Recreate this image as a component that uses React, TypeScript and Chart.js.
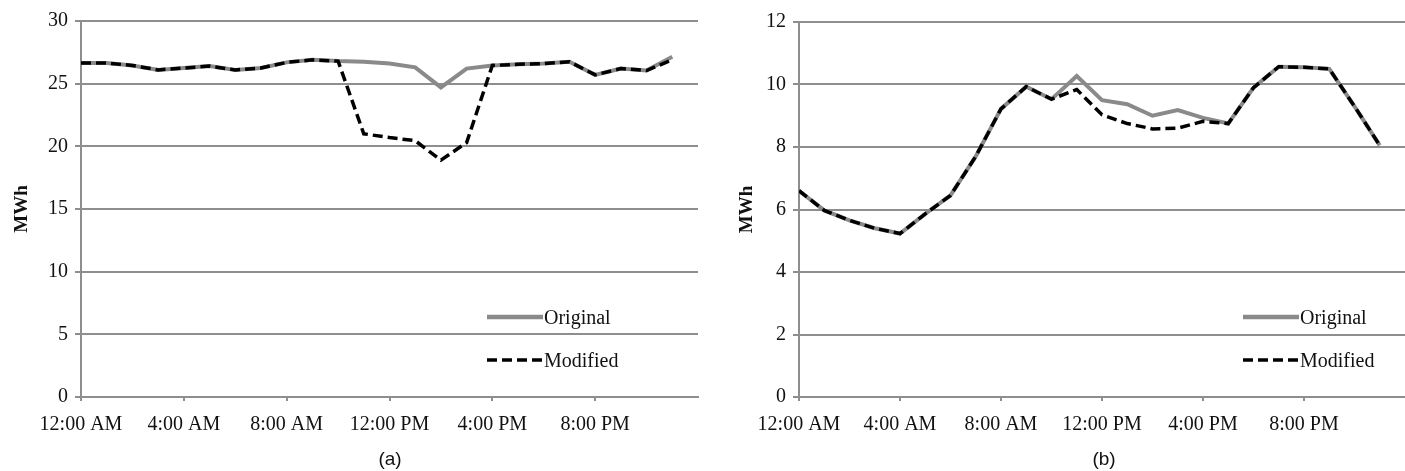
import React, { useEffect, useRef } from 'react';
import { Chart, registerables } from 'chart.js';

Chart.register(...registerables);

const HOURS = [0, 1, 2, 3, 4, 5, 6, 7, 8, 9, 10, 11, 12, 13, 14, 15, 16, 17, 18, 19, 20, 21, 22, 23];
const X_TICKS = [0, 4, 8, 12, 16, 20];
const X_TICK_LABELS = ['12:00 AM', '4:00 AM', '8:00 AM', '12:00 PM', '4:00 PM', '8:00 PM'];

const A_ORIGINAL = [26.65, 26.65, 26.45, 26.1, 26.25, 26.4, 26.1, 26.25, 26.7, 26.9, 26.8, 26.75, 26.6, 26.3, 24.7, 26.2, 26.45, 26.55, 26.6, 26.75, 25.7, 26.2, 26.05, 27.15];
const A_MODIFIED = [26.65, 26.65, 26.45, 26.1, 26.25, 26.4, 26.1, 26.25, 26.7, 26.9, 26.8, 21.0, 20.7, 20.45, 18.9, 20.3, 26.45, 26.55, 26.6, 26.75, 25.7, 26.2, 26.05, 26.9];

const B_ORIGINAL = [6.6, 5.97, 5.65, 5.4, 5.23, 5.86, 6.45, 7.7, 9.22, 9.93, 9.53, 10.27, 9.5, 9.37, 9.0, 9.18, 8.93, 8.75, 9.9, 10.57, 10.55, 10.5, 9.3, 8.05];
const B_MODIFIED = [6.6, 5.97, 5.65, 5.4, 5.23, 5.86, 6.45, 7.7, 9.22, 9.93, 9.53, 9.84, 9.03, 8.75, 8.58, 8.6, 8.82, 8.75, 9.9, 10.57, 10.55, 10.5, 9.3, 8.05];

const SERIES_NAMES = ['Original', 'Modified'];
const Y_TITLE = 'MWh';

const GRID = '#8e8e8e';
const ORIG_COLOR = '#8a8a8a';
const MOD_COLOR = '#000000';
const SERIF = "'Liberation Serif', 'Times New Roman', serif";

type Props = {
  original: number[];
  modified: number[];
  yMax: number;
  yStep: number;
  left: number;
  width: number;
  yWidth: number;
  padRight: number;
  padTop: number;
  titlePad: number;
  letter: string;
  letterX: number;
  legendX: number;
};

function Panel(p: Props) {
  const ref = useRef<HTMLCanvasElement | null>(null);
  useEffect(() => {
    const canvas = ref.current;
    if (!canvas) return;
    const chart = new Chart(canvas, {
      type: 'line',
      data: {
        datasets: [
          {
            label: SERIES_NAMES[0],
            data: HOURS.map((h, i) => ({ x: h, y: p.original[i] })),
            borderColor: ORIG_COLOR,
            borderWidth: 4,
            pointRadius: 0,
            tension: 0,
            fill: false,
            order: 1,
          },
          {
            label: SERIES_NAMES[1],
            data: HOURS.map((h, i) => ({ x: h, y: p.modified[i] })),
            borderColor: MOD_COLOR,
            borderWidth: 3.5,
            borderDash: [10, 5],
            pointRadius: 0,
            tension: 0,
            fill: false,
            order: 0,
          },
        ],
      },
      options: {
        animation: false,
        responsive: false,
        layout: { padding: { left: 0, right: p.padRight, top: p.padTop, bottom: 0 } },
        plugins: { legend: { display: false }, tooltip: { enabled: false } },
        scales: {
          x: {
            type: 'linear',
            min: 0,
            max: 24,
            afterBuildTicks: (s: any) => {
              s.ticks = X_TICKS.map((v) => ({ value: v }));
            },
            afterFit: (s: any) => {
              s.height = 74;
            },
            ticks: {
              autoSkip: false,
              maxRotation: 0,
              padding: 12,
              color: '#111',
              font: { family: SERIF, size: 20 },
              callback: (v: any) => {
                const i = X_TICKS.indexOf(Number(v));
                return i >= 0 ? X_TICK_LABELS[i] : '';
              },
            },
            grid: { drawOnChartArea: false, drawTicks: true, tickLength: 4, color: GRID, lineWidth: 2 },
            border: { display: true, color: GRID, width: 2 },
          },
          y: {
            min: 0,
            max: p.yMax,
            afterFit: (s: any) => {
              s.width = p.yWidth;
            },
            ticks: {
              stepSize: p.yStep,
              padding: 7,
              color: '#111',
              font: { family: SERIF, size: 20 },
            },
            grid: { color: GRID, lineWidth: 2, tickLength: 6 },
            border: { display: true, color: GRID, width: 2 },
            title: {
              display: true,
              text: Y_TITLE,
              color: '#111',
              font: { family: SERIF, size: 19, weight: 'bold' },
              padding: { top: p.titlePad, bottom: 0 },
            },
          },
        },
      },
    } as any);
    return () => chart.destroy();
  }, []);

  const legendText: React.CSSProperties = {
    position: 'absolute',
    fontFamily: SERIF,
    fontSize: 20,
    color: '#111',
    lineHeight: '20px',
    whiteSpace: 'nowrap',
  };

  return (
    <div style={{ position: 'absolute', left: p.left, top: 0, width: p.width, height: 471 }}>
      <canvas ref={ref} width={p.width} height={471} style={{ width: p.width, height: 471, display: 'block' }} />
      <svg style={{ position: 'absolute', left: p.legendX - p.left, top: 300 }} width={60} height={80}>
        <line x1={0} y1={17} x2={56} y2={17} stroke={ORIG_COLOR} strokeWidth={4.5} />
        <line x1={0} y1={60} x2={56} y2={60} stroke={MOD_COLOR} strokeWidth={3.5} strokeDasharray="10,5" />
      </svg>
      <div style={{ ...legendText, left: p.legendX - p.left + 57, top: 307 }}>{SERIES_NAMES[0]}</div>
      <div style={{ ...legendText, left: p.legendX - p.left + 57, top: 350 }}>{SERIES_NAMES[1]}</div>
      <div
        style={{
          position: 'absolute',
          left: p.letterX - p.left - 30,
          width: 60,
          textAlign: 'center',
          top: 448,
          fontFamily: "'Liberation Sans', Arial, sans-serif",
          fontSize: 19,
          lineHeight: '22px',
          color: '#111',
        }}
      >
        {p.letter}
      </div>
    </div>
  );
}

export default function App() {
  return (
    <div
      style={{
        position: 'fixed',
        left: 0,
        top: 0,
        width: 1405,
        height: 471,
        background: '#fff',
        overflow: 'hidden',
      }}
    >
      <Panel
        original={A_ORIGINAL}
        modified={A_MODIFIED}
        yMax={30}
        yStep={5}
        left={0}
        width={700}
        yWidth={81}
        padRight={2}
        padTop={21}
        titlePad={11}
        letter="(a)"
        letterX={390}
        legendX={487}
      />
      <Panel
        original={B_ORIGINAL}
        modified={B_MODIFIED}
        yMax={12}
        yStep={2}
        left={700}
        width={705}
        yWidth={99}
        padRight={0}
        padTop={22}
        titlePad={36}
        letter="(b)"
        letterX={1104}
        legendX={1243}
      />
    </div>
  );
}
